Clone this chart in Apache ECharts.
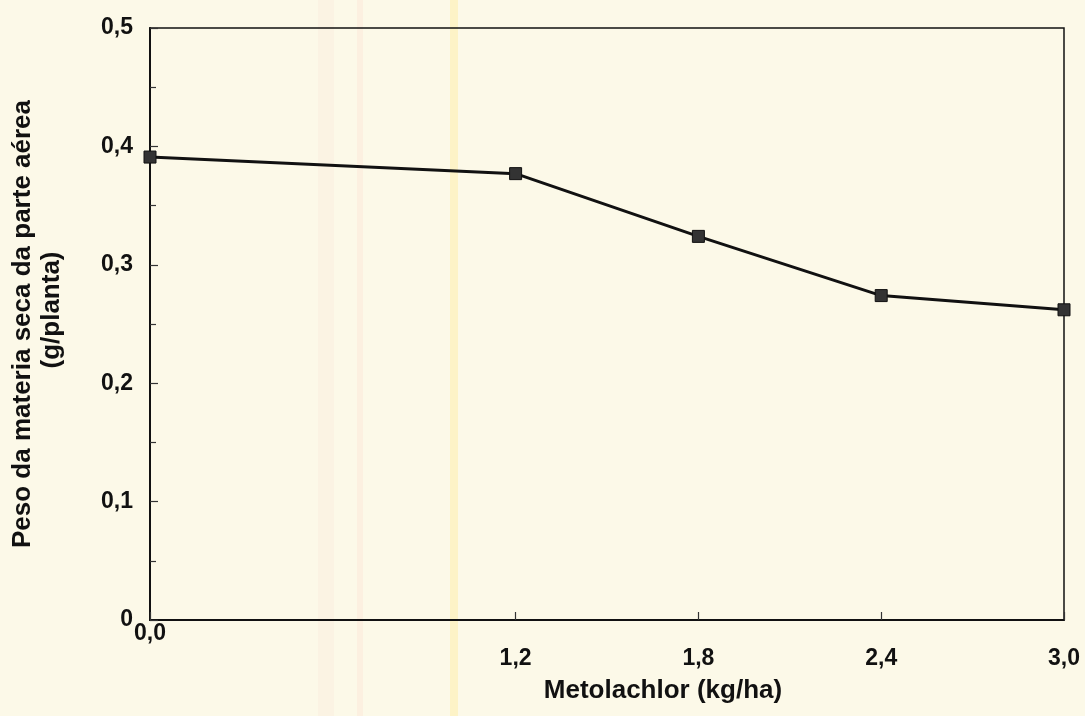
<!DOCTYPE html>
<html>
<head>
<meta charset="utf-8">
<script src="https://cdn.jsdelivr.net/npm/echarts@6/dist/echarts.min.js"></script>
<style>
  html, body { margin: 0; padding: 0; background: #fcf9e8; }
  #chart { width: 1085px; height: 716px; }
</style>
</head>
<body>
<div id="chart"></div>
<script>
// Data
const doses = [0.0, 1.2, 1.8, 2.4, 3.0];            // Metolachlor (kg/ha)
const dryWeight = [0.391, 0.377, 0.324, 0.274, 0.262]; // g/planta
const xTickValues = [0.0, 1.2, 1.8, 2.4, 3.0];
const xTitle = 'Metolachlor (kg/ha)';
const yTitleLine1 = 'Peso da materia seca da parte aérea';
const yTitleLine2 = '(g/planta)';

const fmtComma = v => v.toFixed(1).replace('.', ',');
const FONT = 'Liberation Sans, Arial, sans-serif';
const TICK_FS = 23;

const chart = echarts.init(document.getElementById('chart'), null, { renderer: 'canvas' });

chart.setOption({
  backgroundColor: '#fcf9e8',
  animation: false,
  graphic: [
    { type: 'rect', z: -10, silent: true, shape: { x: 318, y: 0, width: 16, height: 716 }, style: { fill: 'rgba(250,220,210,0.2)' } },
    { type: 'rect', z: -10, silent: true, shape: { x: 357, y: 0, width: 6, height: 716 }, style: { fill: 'rgba(250,215,200,0.25)' } },
    { type: 'rect', z: -10, silent: true, shape: { x: 450, y: 0, width: 8, height: 716 }, style: { fill: 'rgba(255,235,150,0.4)' } }
  ],
  grid: {
    left: 150, right: 21, top: 28, bottom: 96,
    show: true, borderColor: '#111', borderWidth: 1.5, backgroundColor: 'transparent'
  },
  xAxis: {
    type: 'value',
    min: 0, max: 3,
    name: xTitle,
    nameLocation: 'middle',
    nameGap: 58,
    nameTextStyle: { fontFamily: FONT, fontWeight: 'bold', fontSize: 26, color: '#111', padding: [0, 0, 0, 112] },
    axisLine: { show: true, lineStyle: { color: '#111', width: 2 } },
    axisTick: { show: true, inside: true, length: 8, customValues: xTickValues, lineStyle: { color: '#333', width: 1.2 } },
    splitLine: { show: false },
    axisLabel: {
      customValues: xTickValues,
      margin: 2,
      fontFamily: FONT, fontWeight: 'bold', fontSize: TICK_FS, color: '#111',
      formatter: v => v === 0 ? '{z|' + fmtComma(v) + '}' : '{n|' + fmtComma(v) + '}',
      rich: {
        z: { fontFamily: FONT, fontWeight: 'bold', fontSize: TICK_FS, color: '#111' },
        n: { fontFamily: FONT, fontWeight: 'bold', fontSize: TICK_FS, color: '#111', padding: [25, 0, 0, 0] }
      }
    }
  },
  yAxis: {
    type: 'value',
    min: 0, max: 0.5, interval: 0.1,
    name: '{a|' + yTitleLine1 + '}\n{b|' + yTitleLine2 + '}',
    nameLocation: 'middle',
    nameGap: 84,
    nameTextStyle: {
      fontFamily: FONT, fontWeight: 'bold', fontSize: 26, color: '#111', lineHeight: 29,
      rich: {
        a: { fontFamily: FONT, fontWeight: 'bold', fontSize: 26, color: '#111', lineHeight: 29 },
        b: { fontFamily: FONT, fontWeight: 'bold', fontSize: 26, color: '#111', lineHeight: 29, padding: [0, 0, 0, 28] }
      }
    },
    axisLine: { show: true, lineStyle: { color: '#111', width: 2 } },
    axisTick: { show: true, inside: true, length: 8, lineStyle: { color: '#333', width: 1.2 } },
    minorTick: { show: true, splitNumber: 2, length: 6, lineStyle: { color: '#333', width: 1.2 } },
    splitLine: { show: false },
    axisLabel: {
      margin: 17,
      fontFamily: FONT, fontWeight: 'bold', fontSize: TICK_FS, color: '#111',
      formatter: v => v === 0 ? '0' : fmtComma(v)
    }
  },
  series: [{
    type: 'line',
    data: doses.map((d, i) => [d, dryWeight[i]]),
    symbol: 'rect',
    symbolSize: 12,
    lineStyle: { color: '#111', width: 3 },
    itemStyle: { color: '#333', borderColor: '#111', borderWidth: 1 },
    clip: false
  }]
});
</script>
</body>
</html>
